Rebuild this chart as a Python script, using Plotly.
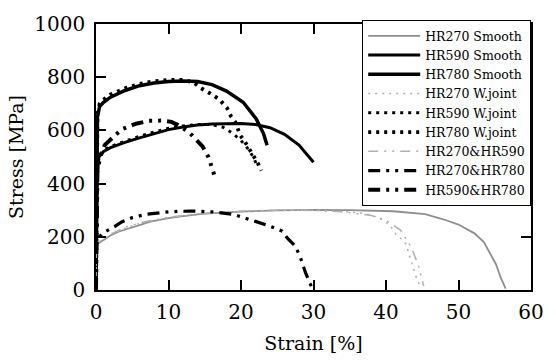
import plotly.graph_objects as go

# ---- data (strain [%], stress [MPa]) ----
names = ["HR270 Smooth", "HR590 Smooth", "HR780 Smooth",
         "HR270 W.joint", "HR590 W.joint", "HR780 W.joint",
         "HR270&HR590", "HR270&HR780", "HR590&HR780"]

hr270_smooth_x = [0, 0.05, 0.3, 1, 2, 3, 4.6, 6, 7.5, 10, 12, 15, 20, 25, 30, 35, 41, 45.4, 48, 50, 52.2, 53.5, 54.4, 55.2, 55.8, 56.5]
hr270_smooth_y = [0, 150, 175, 188, 205, 218, 232, 245, 257, 270, 278, 287, 295, 299, 301, 300, 296, 285, 265, 246, 213, 180, 136, 95, 48, 5]

hr590_smooth_x = [0, 0.15, 0.4, 1, 2, 4, 6, 8, 10, 12, 14, 16, 18, 20, 22, 24, 26, 28, 30]
hr590_smooth_y = [0, 420, 500, 520, 535, 555, 572, 588, 603, 613, 620, 624, 626, 626, 622, 610, 585, 545, 480]

hr780_smooth_x = [0, 0.1, 0.2, 0.5, 1, 2, 4, 6, 8, 10, 12, 14, 16, 18, 20.3, 22.1, 23.1, 23.6]
hr780_smooth_y = [0, 400, 650, 690, 705, 725, 750, 768, 778, 784, 786, 784, 772, 748, 706, 643, 588, 544]

hr270_wj_x = [0, 0.05, 0.3, 1, 2, 4, 6, 8, 10, 14, 18, 22, 26, 30, 34, 37, 39, 40.5, 41.4, 42.2, 42.8, 43.1, 43.5, 43.9, 44.3, 44.8]
hr270_wj_y = [0, 155, 178, 192, 208, 232, 250, 262, 272, 284, 292, 297, 300, 300, 296, 288, 272, 245, 209, 190, 172, 140, 103, 70, 37, 11]

hr590_wj_x = [0, 0.15, 0.4, 1, 2, 4, 6, 8, 10, 12, 14, 16, 17.5, 18.8, 20, 21, 21.8, 22.3]
hr590_wj_y = [0, 430, 505, 525, 540, 560, 578, 594, 608, 617, 622, 622, 612, 590, 562, 530, 495, 460]

hr780_wj_x = [0, 0.1, 0.2, 0.5, 1, 2, 4, 6, 8, 10, 12, 13.5, 14.4, 15.8, 17, 18.1, 18.6, 19.2, 19.9, 20.5, 21.2, 21.8, 22.3, 22.8]
hr780_wj_y = [0, 420, 660, 700, 715, 735, 758, 775, 785, 790, 790, 780, 760, 738, 717, 683, 654, 632, 581, 559, 530, 504, 478, 449]

hr270_590_x = [0, 0.05, 0.3, 1, 2, 4, 6, 8, 10, 14, 18, 22, 26, 30, 34, 38, 40, 42, 43.5, 44.5, 45.2]
hr270_590_y = [0, 160, 180, 195, 210, 235, 252, 264, 274, 286, 294, 298, 300, 299, 294, 280, 262, 225, 160, 90, 15]

hr270_780_x = [0, 0.05, 0.3, 1, 2.6, 3.6, 5, 7, 10, 13, 16, 19, 22.1, 23.5, 24.1, 25.7, 26.4, 27.5, 28.2, 28.9, 29.9]
hr270_780_y = [0, 170, 195, 215, 239, 257, 272, 285, 294, 297, 294, 284, 257, 246, 239, 221, 195, 165, 122, 65, 0]

hr590_780_x = [0, 0.2, 0.6, 1.2, 2.6, 3.6, 5.5, 7.3, 9, 10.4, 11.3, 12.7, 13.3, 14.7, 15.5, 16.3]
hr590_780_y = [0, 450, 500, 545, 581, 605, 625, 636, 637, 632, 620, 596, 580, 540, 500, 434]

x_ticks = [0, 10, 20, 30, 40, 50, 60]
y_ticks = [0, 200, 400, 600, 800, 1000]

series_x = [hr270_smooth_x, hr590_smooth_x, hr780_smooth_x, hr270_wj_x, hr590_wj_x,
            hr780_wj_x, hr270_590_x, hr270_780_x, hr590_780_x]
series_y = [hr270_smooth_y, hr590_smooth_y, hr780_smooth_y, hr270_wj_y, hr590_wj_y,
            hr780_wj_y, hr270_590_y, hr270_780_y, hr590_780_y]

styles = [
    dict(color="#8e8e8e", width=1.8, dash="solid"),
    dict(color="black", width=3, dash="solid"),
    dict(color="black", width=3.5, dash="solid"),
    dict(color="#b0b0b0", width=1.5, dash="2px,5px"),
    dict(color="black", width=3, dash="3px,5px"),
    dict(color="black", width=3.8, dash="3px,5px"),
    dict(color="#b0b0b0", width=1.5, dash="10px,6px,2px,6px,2px,6px"),
    dict(color="black", width=3.2, dash="12px,6px,3px,6px,3px,6px"),
    dict(color="black", width=4, dash="12px,6px,3px,6px,3px,6px"),
]

font = "DejaVu Serif"
fig = go.Figure()
for n, xs, ys, st in zip(names, series_x, series_y, styles):
    fig.add_trace(go.Scatter(x=xs, y=ys, mode="lines", name=n, line=st))

axis_common = dict(showline=True, linecolor="black", linewidth=1.5, mirror="allticks",
                   ticks="inside", ticklen=10, tickwidth=1.5, tickcolor="black",
                   showgrid=False, zeroline=False,
                   tickfont=dict(family=font, size=20, color="black"))

fig.update_xaxes(range=[0, 60], tickvals=x_ticks, ticktext=[str(v) for v in x_ticks],
                 title=dict(text="Strain [%]", font=dict(family=font, size=19, color="black"), standoff=14),
                 ticklabelstandoff=3, **axis_common)
fig.update_yaxes(range=[0, 1000], tickvals=y_ticks, ticktext=[str(v) for v in y_ticks],
                 title=dict(text="Stress [MPa]", font=dict(family=font, size=19, color="black"), standoff=6),
                 ticklabelstandoff=5, **axis_common)

fig.update_layout(
    width=556, height=363,
    margin=dict(l=96, r=15, t=18, b=73),
    paper_bgcolor="white", plot_bgcolor="white",
    showlegend=True,
    legend=dict(x=1.0, y=1.015, xanchor="right", yanchor="top",
                bgcolor="white", bordercolor="black", borderwidth=1.2,
                font=dict(family=font, size=12.5, color="black"),
                tracegroupgap=0, itemwidth=52, maxheight=600),
)

fig.write_html("out.html")
